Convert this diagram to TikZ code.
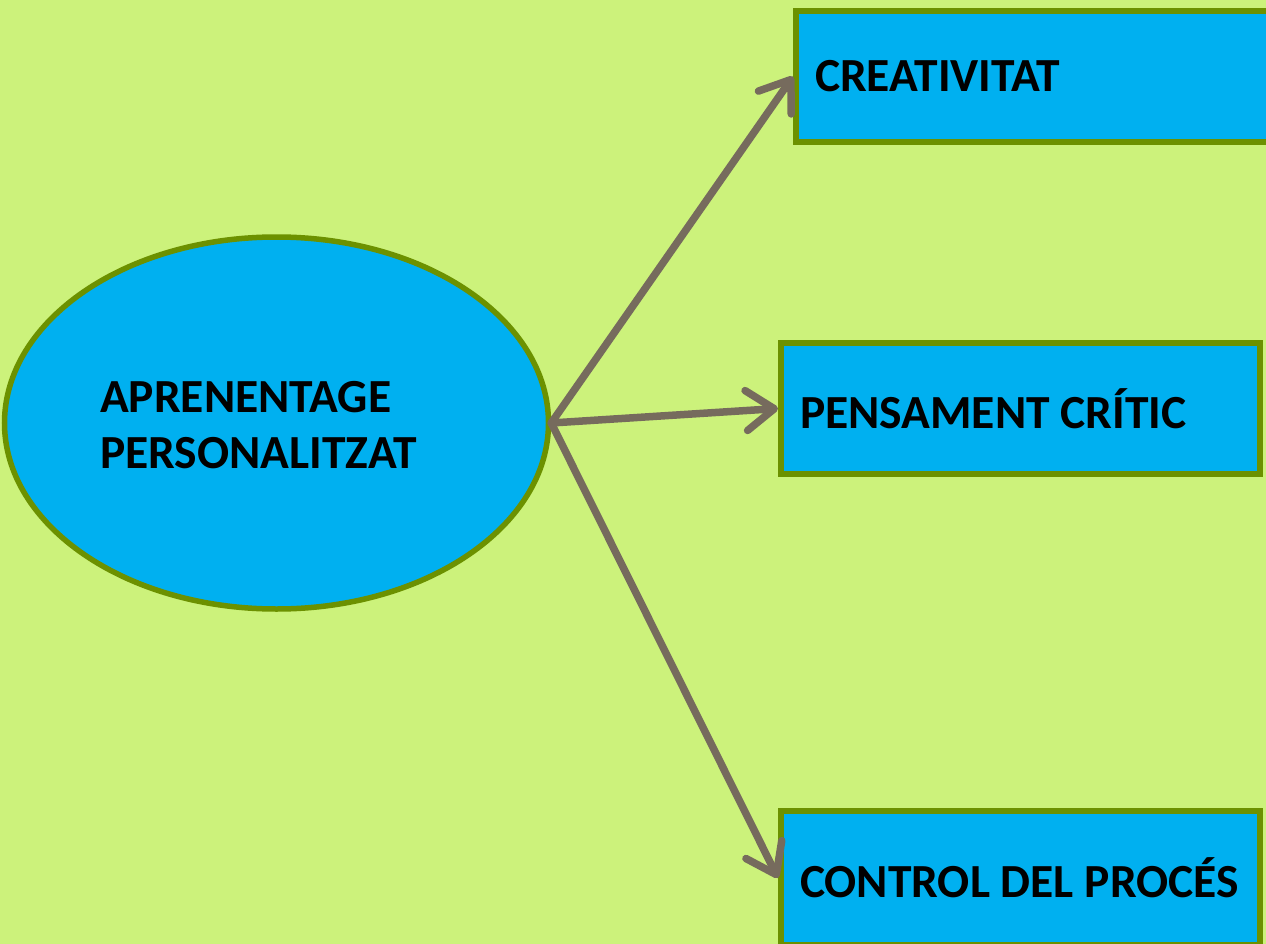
\documentclass[tikz,border=0pt]{standalone}
\usepackage{fontspec}
\setmainfont{Carlito}
\usetikzlibrary{arrows.meta,shapes.geometric}
\definecolor{bg}{RGB}{204,242,123}
\definecolor{fillblue}{RGB}{0,176,240}
\definecolor{bordgreen}{RGB}{108,145,0}
\definecolor{arrowgray}{RGB}{118,107,93}
\tikzset{
  box/.style={draw=bordgreen, line width=6pt, fill=fillblue, rectangle, anchor=north west,
    inner xsep=19pt, inner ysep=0pt, font=\bfseries\fontsize{47.5}{56}\selectfont, text=black},
  link/.style={draw=arrowgray, line width=7.5pt, line cap=round,
    -{Straight Barb[length=28pt, width=40pt, line cap=round, line join=round]}},
}
\begin{document}
\begin{tikzpicture}[x=1pt,y=-1pt]
\useasboundingbox (0,0) rectangle (1266,944);
\fill[bg] (0,0) rectangle (1266,944);
\begin{scope}
\clip (0,0) rectangle (1266,944);
\node[ellipse, draw=bordgreen, line width=5.5pt, fill=fillblue, minimum width=544pt, minimum height=372pt, inner sep=0pt] (ap) at (276.5,423) {};
\node[anchor=north west, inner sep=0pt, align=left, font=\bfseries\fontsize{47.5}{56}\selectfont] (aptext) at (100,381) {APRENENTAGE\\PERSONALITZAT};
\node[box, minimum width=490pt, minimum height=131pt] (c1) at (793,8) {\makebox[452pt][l]{CREATIVITAT}};
\node[box, minimum width=479pt, minimum height=131pt] (c2) at (778,340) {\makebox[441pt][l]{PENSAMENT CRÍTIC}};
\node[box, minimum width=479pt, minimum height=134pt] (c3) at (778,808) {\makebox[441pt][l]{CONTROL DEL PROCÉS}};
\draw[link] (ap.east) -- (c1.west);
\draw[link] (ap.east) -- (c2.west);
\draw[link] (ap.east) -- (c3.west);
\end{scope}
\end{tikzpicture}
\end{document}
